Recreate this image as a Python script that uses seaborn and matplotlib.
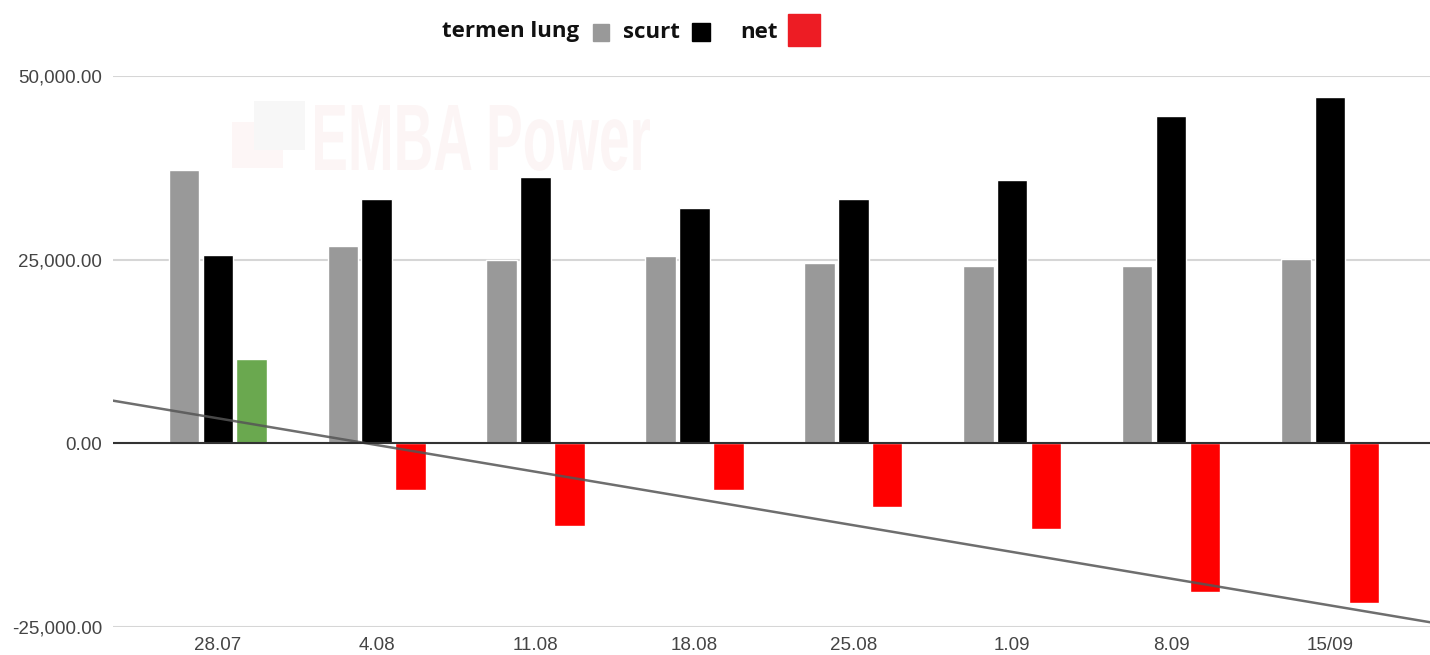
import numpy as np
import pandas as pd
import matplotlib
matplotlib.use('Agg')
import matplotlib.pyplot as plt
import seaborn as sns
from matplotlib.patches import Rectangle, PathPatch
from matplotlib.textpath import TextPath
from matplotlib.font_manager import FontProperties
from matplotlib.transforms import Affine2D, IdentityTransform
from matplotlib.ticker import FuncFormatter

# date saptamanale (pozitii termen lung / scurt / net)
dates = ['28.07', '4.08', '11.08', '18.08', '25.08', '1.09', '8.09', '15/09']
termen_lung = [37200, 26800, 24900, 25500, 24500, 24100, 24200, 25100]
scurt = [25700, 33200, 36200, 32100, 33200, 35900, 44500, 47100]
net = [11500, -6300, -11200, -6400, -8600, -11700, -20200, -21700]

series_names = ['termen lung', 'scurt', 'net']
palette = {'termen lung': '#999999', 'scurt': '#000000', 'net': '#ff0000'}
pos_color = '#6aa84f'

df = pd.DataFrame({'data': dates, 'termen lung': termen_lung, 'scurt': scurt, 'net': net})
long_df = df.melt(id_vars='data', var_name='serie', value_name='valoare')

sns.set_style('white')
plt.rcParams['font.family'] = ['Liberation Sans', 'DejaVu Sans']

fig = plt.figure(figsize=(14.3, 6.55), dpi=100)
ax = fig.add_axes([113 / 1430, 1 - 627 / 655, (1430 - 113) / 1430, (627 - 76) / 655])

# watermark (foarte slab), in pixeli
wm = TextPath((0, 0), 'EMBA Power', size=1,
              prop=FontProperties(family='Liberation Sans', weight='bold'))
ext = wm.get_extents()
sx = 335 / ext.width
sy = 68 / 0.72
wm_tr = Affine2D().translate(-ext.x0, 0).scale(sx, sy).translate(315, 655 - 170)
fig.add_artist(PathPatch(wm_tr.transform_path(wm), transform=IdentityTransform(),
                         color='#fcf5f5', lw=0, zorder=0.5))
fig.add_artist(Rectangle((232, 655 - 168), 51, 46, transform=IdentityTransform(),
                         color='#fdf6f6', lw=0, zorder=0.4))
fig.add_artist(Rectangle((254, 655 - 150), 51, 49, transform=IdentityTransform(),
                         color='#f7f7f7', lw=0, zorder=0.45))
ax.patch.set_alpha(0)

sns.barplot(data=long_df, x='data', y='valoare', hue='serie', order=dates,
            hue_order=series_names, palette=palette, width=0.64, gap=0.1,
            saturation=1, legend=False, ax=ax, zorder=3)

# bara net pozitiva -> verde
for bar, v in zip(ax.containers[2], net):
    if v > 0:
        bar.set_facecolor(pos_color)

# linie de trend pe net
xlim = (-0.66, 7.63)
k, b = np.polyfit(np.arange(len(net)), net, 1)
xs = np.array(xlim)
ax.plot(xs, k * xs + b, color='#555555', lw=1.8, alpha=0.85, zorder=4)

ax.set_xlim(*xlim)
ax.set_ylim(-25000, 50000)
ax.set_yticks([-25000, 0, 25000, 50000])
ax.yaxis.set_major_formatter(FuncFormatter(lambda v, p: f'{v:,.2f}'))
ax.grid(axis='y', color='#d6d6d6', lw=1.5, zorder=0)
ax.axhline(0, color='#333333', lw=1.5, zorder=5)
for s in ax.spines.values():
    s.set_visible(False)
ax.tick_params(axis='both', length=0, labelsize=13.5, colors='#444444')
ax.tick_params(axis='y', pad=8)
ax.tick_params(axis='x', pad=7)
ax.set_xlabel('')
ax.set_ylabel('')

# legenda manuala (text inainte de marker)
lfont = dict(fontsize=16, fontweight='bold', family=['Open Sans', 'DejaVu Sans'],
             color='#111111', va='center', ha='left')
ly = 1 - 32 / 655
fig.text(442 / 1430, ly, 'termen lung', **lfont)
fig.text(623 / 1430, ly, 'scurt', **lfont)
fig.text(740 / 1430, ly, 'net', **lfont)
fig.add_artist(Rectangle((593 / 1430, 1 - 41 / 655), 16 / 1430, 17 / 655,
                         transform=fig.transFigure, color='#999999'))
fig.add_artist(Rectangle((692 / 1430, 1 - 41 / 655), 18 / 1430, 18 / 655,
                         transform=fig.transFigure, color='#000000'))
fig.add_artist(Rectangle((788 / 1430, 1 - 46 / 655), 32 / 1430, 32 / 655,
                         transform=fig.transFigure, color='#ed1c24'))

fig.savefig('out.png', dpi=100, facecolor='white')
